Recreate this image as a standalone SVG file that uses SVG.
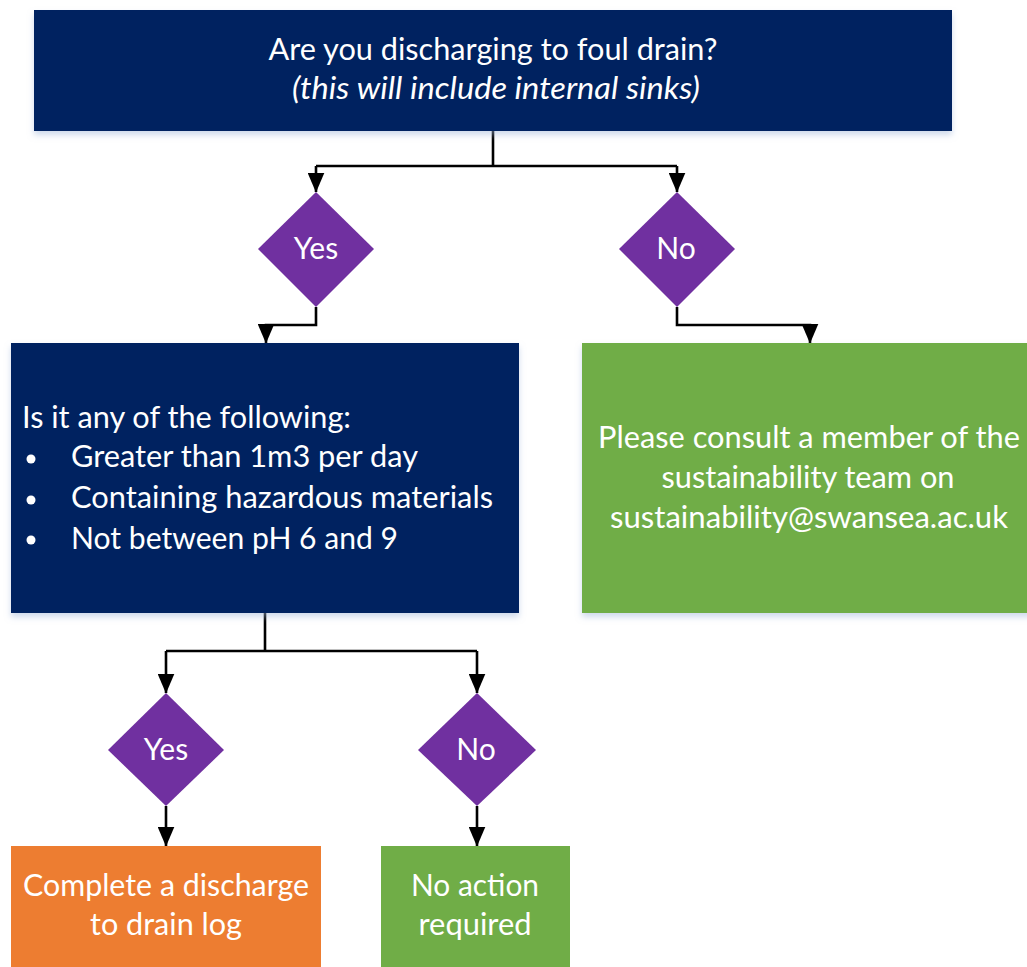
<svg xmlns="http://www.w3.org/2000/svg" width="1027" height="967" viewBox="0 0 1027 967">
<style>
.t{font-family:Lato,"Open Sans","Liberation Sans",sans-serif;font-size:30px;fill:#ffffff}
.c{text-anchor:middle}
.navy{fill:#002060}
.purple{fill:#7030A0}
.green{fill:#70AD47}
.orange{fill:#ED7D31}
.ln{fill:none;stroke:#000;stroke-width:2.6}
</style>
<defs>
<marker id="ah" viewBox="0 0 20 17" refX="19.5" refY="8.5" markerWidth="20" markerHeight="17" markerUnits="userSpaceOnUse" orient="auto">
<path d="M0,0 L20,8.5 L0,17 Z" fill="#000"/>
</marker>
<filter id="sh" x="-5%" y="-5%" width="110%" height="120%">
<feDropShadow dx="0" dy="4" stdDeviation="3" flood-color="#9db4d8" flood-opacity="0.5"/>
</filter>
</defs>
<g id="connectors">
<path class="ln" d="M493,131 V166"/>
<path class="ln" d="M316,166 H677"/>
<path class="ln" d="M316,166 V192" marker-end="url(#ah)"/>
<path class="ln" d="M677,166 V192" marker-end="url(#ah)"/>
<path class="ln" d="M316,307 V325 H266 V343" marker-end="url(#ah)"/>
<path class="ln" d="M677,307 V325 H810 V343" marker-end="url(#ah)"/>
<path class="ln" d="M265,613 V651"/>
<path class="ln" d="M166,651 H477"/>
<path class="ln" d="M166,651 V693" marker-end="url(#ah)"/>
<path class="ln" d="M477,651 V693" marker-end="url(#ah)"/>
<path class="ln" d="M166,806 V846" marker-end="url(#ah)"/>
<path class="ln" d="M477,806 V846" marker-end="url(#ah)"/>
</g>
<g id="n-top">
<rect class="navy" x="34" y="10" width="918" height="121" filter="url(#sh)"/>
<text class="t c" x="493" y="60" textLength="449" lengthAdjust="spacingAndGlyphs">Are you discharging to foul drain?</text>
<text class="t c" x="496" y="99" font-style="italic" textLength="408" lengthAdjust="spacingAndGlyphs">(this will include internal sinks)</text>
</g>
<g id="n-yes1">
<polygon class="purple" points="316,192 374,249 316,307 258,249"/>
<text class="t c" x="316" y="259">Yes</text>
</g>
<g id="n-no1">
<polygon class="purple" points="677,192 735,249 677,307 619,249"/>
<text class="t c" x="676" y="259">No</text>
</g>
<g id="n-question">
<rect class="navy" x="11" y="343" width="508" height="270" filter="url(#sh)"/>
<text class="t" x="22" y="428" textLength="329" lengthAdjust="spacingAndGlyphs">Is it any of the following:</text>
<circle cx="31" cy="459" r="4.5" fill="#fff"/>
<text class="t" x="71" y="467" textLength="347" lengthAdjust="spacingAndGlyphs">Greater than 1m3 per day</text>
<circle cx="31" cy="500" r="4.5" fill="#fff"/>
<text class="t" x="71" y="508" textLength="422" lengthAdjust="spacingAndGlyphs">Containing hazardous materials</text>
<circle cx="31" cy="540" r="4.5" fill="#fff"/>
<text class="t" x="71" y="549" textLength="327" lengthAdjust="spacingAndGlyphs">Not between pH 6 and 9</text>
</g>
<g id="n-consult">
<rect class="green" x="582" y="343" width="450" height="270" filter="url(#sh)"/>
<text class="t c" x="809" y="448" textLength="422" lengthAdjust="spacingAndGlyphs">Please consult a member of the</text>
<text class="t c" x="808" y="488" textLength="293" lengthAdjust="spacingAndGlyphs">sustainability team on</text>
<text class="t c" x="809" y="528" textLength="398" lengthAdjust="spacingAndGlyphs">sustainability@swansea.ac.uk</text>
</g>
<g id="n-yes2">
<polygon class="purple" points="166,693 224,750 166,806 108,750"/>
<text class="t c" x="166" y="760">Yes</text>
</g>
<g id="n-no2">
<polygon class="purple" points="477,693 536,750 477,806 418,750"/>
<text class="t c" x="476" y="760">No</text>
</g>
<g id="n-log">
<rect class="orange" x="11" y="846" width="310" height="130"/>
<text class="t c" x="166" y="896" textLength="286" lengthAdjust="spacingAndGlyphs">Complete a discharge</text>
<text class="t c" x="166" y="935" textLength="152" lengthAdjust="spacingAndGlyphs">to drain log</text>
</g>
<g id="n-noaction">
<rect class="green" x="381" y="846" width="189" height="130"/>
<text class="t c" x="475" y="896" textLength="128" lengthAdjust="spacingAndGlyphs">No action</text>
<text class="t c" x="475" y="935" textLength="113" lengthAdjust="spacingAndGlyphs">required</text>
</g>
</svg>
